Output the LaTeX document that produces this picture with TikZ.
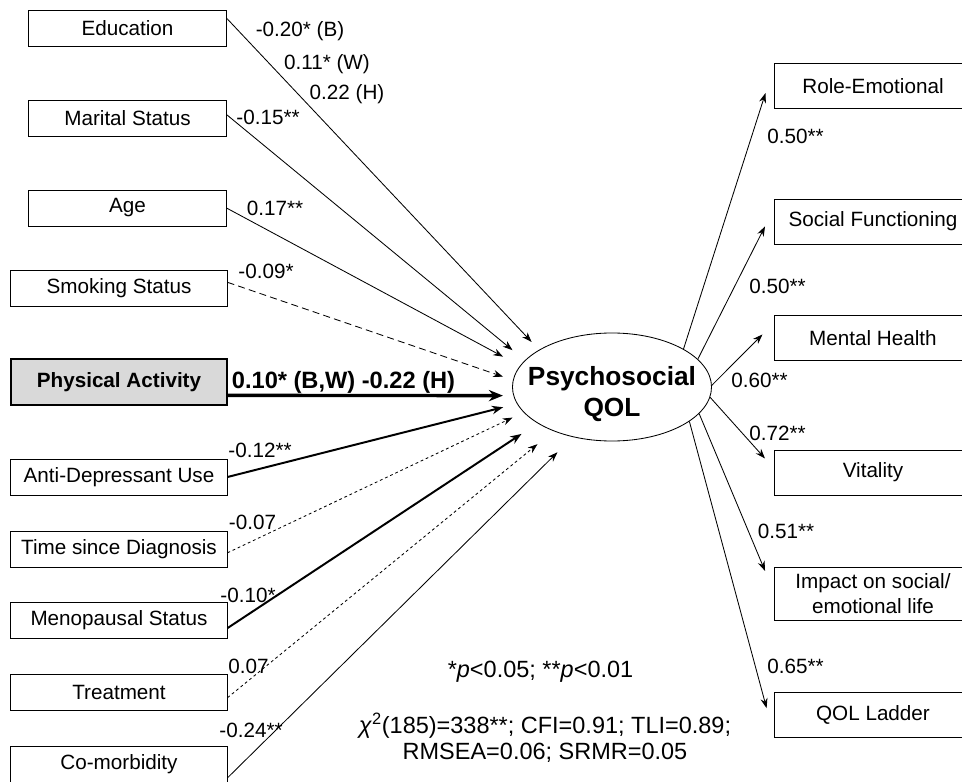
\documentclass[tikz,border=0pt]{standalone}
\usepackage{fontspec}
\setmainfont{Liberation Sans}
\usepackage{tikz}
\usetikzlibrary{shapes.geometric,arrows.meta}

\begin{document}
\begin{tikzpicture}[x=0.025cm,y=-0.025cm,font=\fontsize{14.7}{17.6}\selectfont,
    obs/.style={draw,line width=0.7pt,inner sep=0pt,minimum width=4.925cm,minimum height=0.9cm,align=center},
    obsw/.style={obs,minimum width=5.4cm},
    obsr/.style={obs,minimum width=4.9cm,minimum height=1.125cm},
    coef/.style={inner sep=0pt,anchor=base},
    lnk/.style={line width=0.6pt,-{Stealth[length=7pt,width=5pt]}},
    lnkbold/.style={lnk,line width=1.4pt,-{Stealth[length=8pt,width=6pt]}},
    lnkdash/.style={lnk,dash pattern=on 5pt off 3pt},
    lnkdot/.style={lnk,dash pattern=on 2pt off 2pt}]
  \useasboundingbox (0,0) rectangle (962,782);
  \clip (0,0) rectangle (962,782);

  % predictors
  \node[obs] (edu) at (127.5,28.5) {Education};
  \node[obs] (mar) at (127.5,118) {Marital Status};
  \node[obs] (age) at (127.5,208) {Age};
  \node[obsw] (smk) at (119,288) {Smoking Status};
  \node[obsw,minimum height=1.15cm,fill=black!15,line width=1.2pt,font=\fontsize{14.7}{17.6}\selectfont\bfseries] (pa) at (119,382) {Physical Activity};
  \node[obsw] (ad) at (119,477) {Anti-Depressant Use};
  \node[obsw] (tsd) at (119,549) {Time since Diagnosis};
  \node[obsw] (men) at (119,620.5) {Menopausal Status};
  \node[obsw] (trt) at (119,692) {Treatment};
  \node[obsw] (com) at (119,764.5) {Co-morbidity};

  % latent
  \node[ellipse,draw,line width=0.6pt,inner sep=0pt,minimum width=4.975cm,minimum height=2.7cm] (qol) at (612,387) {};
  \node[font=\fontsize{18.7}{22}\selectfont\bfseries,align=center,inner sep=0pt] (qoltxt) at (612,394) {Psychosocial\\QOL};

  % indicators
  \node[obsr] (re) at (873,86) {Role-Emotional};
  \node[obsr] (sf) at (873,221.5) {Social Functioning};
  \node[obsr] (mh) at (873,338) {Mental Health};
  \node[obsr] (vit) at (873,472.5) {Vitality};
  \node[obsr,minimum height=1.325cm] (imp) at (873,593.5) {Impact on social/\\emotional life};
  \node[obsr] (lad) at (873,714.5) {QOL Ladder};

  \draw[lnk,shorten >=0.27cm] (edu.6) -- (qol.153);
  \draw[lnk,shorten >=0.4cm] (mar.2) -- (qol.163);
  \draw[lnk,shorten >=0.48cm] (age.east) -- (qol.167);
  \draw[lnkdash,shorten >=0.26cm] (smk.3) -- (qol.176);
  \draw[lnk,line width=2.4pt,-{Stealth[length=10pt,width=8pt]},shorten >=0.26cm] (pa.353) -- (qol.185);
  \draw[lnkbold,shorten >=0.355cm] (ad.east) -- (qol.190);
  \draw[lnkdot,shorten >=0.305cm] (tsd.358) -- (qol.196);
  \draw[lnkbold,shorten >=0.48cm] (men.356) -- (qol.206);
  \draw[lnkdot,shorten >=0.515cm] (trt.357) -- (qol.217);
  \draw[lnk,shorten >=0.54cm] (com.353) -- (qol.232);

  \draw[lnk,shorten >=0.735cm] (qol.28) -- (re.168);
  \draw[lnk,shorten >=0.525cm] (qol.18) -- (sf.172);
  \draw[lnk,shorten >=0.425cm] (qol.1) -- (mh.171);
  \draw[lnk,shorten >=0.355cm] (qol.354) -- (vit.178);
  \draw[lnk,shorten >=0.61cm] (qol.343) -- (imp.west);
  \draw[lnk,shorten >=0.76cm] (qol.336) -- (lad.south west);

  % coefficients
  \node[coef] (cedua) at (300,37) {-0.20* (B)};
  \node[coef] (cedub) at (327,70) {0.11* (W)};
  \node[coef] (ceduc) at (347,100) {0.22 (H)};
  \node[coef] (cmar) at (268,125) {-0.15**};
  \node[coef] (cage) at (275,215) {0.17**};
  \node[coef] (csmk) at (266,278) {-0.09*};
  \node[coef,font=\fontsize{16.8}{20}\selectfont\bfseries] (cpa) at (343.5,388) {0.10* (B,W) -0.22 (H)};
  \node[coef] (cad) at (260,457) {-0.12**};
  \node[coef] (ctsd) at (252.5,529) {-0.07};
  \node[coef] (cmen) at (248,602) {-0.10*};
  \node[coef] (ctrt) at (248.5,673) {0.07};
  \node[coef] (ccom) at (251,737) {-0.24**};

  \node[coef] (cre) at (795.5,143) {0.50**};
  \node[coef] (csf) at (777.5,293) {0.50**};
  \node[coef] (cmh) at (759.5,387) {0.60**};
  \node[coef] (cvit) at (777.5,440) {0.72**};
  \node[coef] (cimp) at (786,538) {0.51**};
  \node[coef] (clad) at (795.5,673) {0.65**};

  % fit
  \node[coef,font=\fontsize{16.7}{18.5}\selectfont] (sig) at (540.5,677) {*\textit{p}<0.05; **\textit{p}<0.01};
  \node[font=\fontsize{16.7}{18.5}\selectfont,align=center,inner sep=0pt] (fit) at (545,738) {\textit{χ}\textsuperscript{2}(185)=338**; CFI=0.91; TLI=0.89;\\RMSEA=0.06; SRMR=0.05};
\end{tikzpicture}
\end{document}
